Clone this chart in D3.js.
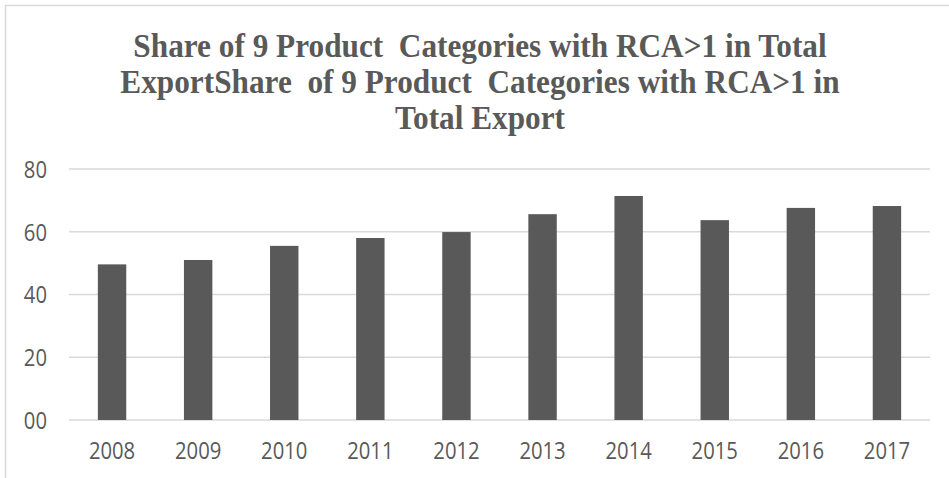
<!DOCTYPE html>
<html>
<head>
<meta charset="utf-8">
<script src="https://cdn.jsdelivr.net/npm/d3@7/dist/d3.min.js"></script>
<style>
  html, body { margin: 0; padding: 0; background: #fff; }
  svg { display: block; }
</style>
</head>
<body>
<svg id="chart" width="949" height="478"></svg>
<script>
// Share of the 9 RCA>1 product categories in total export, by year
const years = ["2008", "2009", "2010", "2011", "2012", "2013", "2014", "2015", "2016", "2017"];
const shares = [49.6, 51.0, 55.5, 58.0, 59.9, 65.6, 71.4, 63.7, 67.6, 68.2];
const tickValues = [0, 20, 40, 60, 80];
const tickLabels = ["00", "20", "40", "60", "80"];
const titleLines = [
  "Share of 9 Product  Categories with RCA>1 in Total",
  "ExportShare  of 9 Product  Categories with RCA>1 in",
  "Total Export"
];

const W = 949, H = 478;
const margin = { left: 69, right: 19, top: 169, bottom: 58 };
const grey = "#595959";
const gridColor = "#d9d9d9";
const squeeze = 0.88;   // narrow-set lettering

const svg = d3.select("#chart");

// outer chart frame
svg.append("rect")
  .attr("x", 5.5).attr("y", 5.5)
  .attr("width", 980).attr("height", 520)
  .attr("fill", "#fff")
  .attr("stroke", gridColor)
  .attr("stroke-width", 1.5);

// title
const title = svg.append("g");
titleLines.forEach((line, i) => {
  title.append("text")
    .attr("transform", `translate(480,${57 + i * 36}) scale(0.92,1)`)
    .attr("text-anchor", "middle")
    .style("white-space", "pre")
    .attr("font-family", "'Liberation Serif', 'Times New Roman', serif")
    .attr("font-weight", "bold")
    .attr("font-size", 34)
    .attr("fill", grey)
    .text(line);
});

const x = d3.scaleBand()
  .domain(years)
  .range([margin.left, W - margin.right])
  .paddingInner(0.67)
  .paddingOuter(0.335);

const y = d3.scaleLinear()
  .domain([0, 80])
  .range([H - margin.bottom, margin.top]);

// horizontal gridlines
svg.append("g")
  .selectAll("line")
  .data(tickValues)
  .join("line")
  .attr("x1", margin.left)
  .attr("x2", W - margin.right)
  .attr("y1", d => y(d))
  .attr("y2", d => y(d))
  .attr("stroke", gridColor)
  .attr("stroke-width", 1.5);

// bars
svg.append("g")
  .selectAll("rect")
  .data(years)
  .join("rect")
  .attr("x", d => x(d))
  .attr("width", x.bandwidth())
  .attr("y", (d, i) => y(shares[i]))
  .attr("height", (d, i) => y(0) - y(shares[i]))
  .attr("fill", grey);

// y axis labels
const yAxis = d3.axisLeft(y)
  .tickValues(tickValues)
  .tickSize(0)
  .tickPadding(0)
  .tickFormat((d, i) => tickLabels[i]);
const yg = svg.append("g").attr("transform", "translate(47,0)").call(yAxis);
yg.select(".domain").remove();
yg.selectAll(".tick text")
  .attr("x", 0)
  .attr("dy", "0.36em")
  .attr("transform", `scale(${squeeze},1)`)
  .attr("font-family", "'Open Sans', sans-serif")
  .attr("font-size", 23)
  .attr("fill", grey);

// x axis labels
const xAxis = d3.axisBottom(x).tickSize(0).tickPadding(0);
const xg = svg.append("g").attr("transform", `translate(0,${H - margin.bottom})`).call(xAxis);
xg.select(".domain").remove();
xg.selectAll(".tick text")
  .attr("y", 39)
  .attr("dy", 0)
  .attr("transform", `scale(${squeeze},1)`)
  .attr("font-family", "'Open Sans', sans-serif")
  .attr("font-size", 23)
  .attr("fill", grey);
</script>
</body>
</html>
